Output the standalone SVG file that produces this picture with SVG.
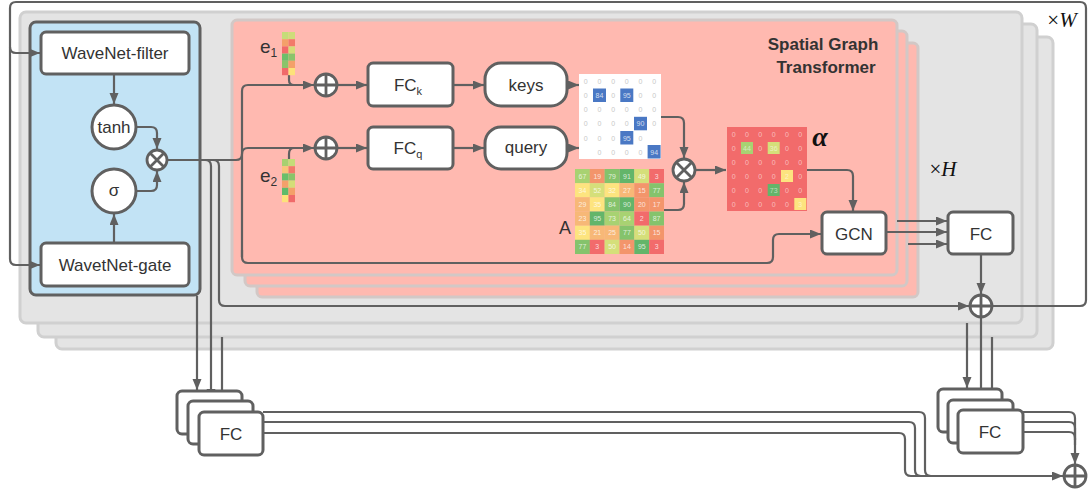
<svg xmlns="http://www.w3.org/2000/svg" width="1089" height="493" viewBox="0 0 1089 493">
<defs>
<marker id="ah" markerUnits="userSpaceOnUse" markerWidth="12" markerHeight="10" refX="11" refY="4.5" orient="auto"><path d="M0,0 L11,4.5 L0,9 z" fill="#606060"/></marker>
</defs>
<style>
.gray{fill:#e4e4e4;stroke:#d0d0d0;stroke-width:3}
.pink{fill:#ffb9b0;stroke:#d2c8c6;stroke-width:3}
.node{fill:#fff;stroke:#606060;stroke-width:3}
.ln{fill:none;stroke:#606060;stroke-width:2.2}
.arr{fill:none;stroke:#606060;stroke-width:2.2;marker-end:url(#ah)}
.op{fill:#fff;stroke:#606060;stroke-width:2.8}
.opl{stroke:#606060;stroke-width:2.8}
.t{font-family:"Liberation Sans",Arial,sans-serif;font-size:17px;fill:#333;text-anchor:middle}
.n0{font-family:"Liberation Sans",Arial,sans-serif;font-size:7px;fill:#c8c8c8;text-anchor:middle}
.nw{font-family:"Liberation Sans",Arial,sans-serif;font-size:7px;fill:#fff;fill-opacity:.75;text-anchor:middle}
.nr{font-family:"Liberation Sans",Arial,sans-serif;font-size:7px;fill:#fff;fill-opacity:.55;text-anchor:middle}
.R{fill:#f26b6b}.O{fill:#f3956b}.LO{fill:#f7b877}.Y{fill:#fde47f}.YG{fill:#d5df7a}.LG{fill:#a8d272}.G{fill:#85c36c}.DG{fill:#63b56a}.B{fill:#4a78c4}
</style>

<!-- background layers -->
<g id="layers">
<rect class="gray" x="56" y="37" width="997" height="312" rx="6"/>
<rect class="gray" x="38" y="24" width="999" height="313" rx="6"/>
<rect class="gray" x="20" y="12" width="1002" height="311" rx="6"/>
<rect class="pink" x="257" y="43" width="661" height="254" rx="5"/>
<rect class="pink" x="245" y="31" width="662" height="255" rx="5"/>
<rect class="pink" x="232" y="20" width="665" height="255" rx="5"/>
<rect x="30" y="22" width="170" height="273" rx="6" fill="#c2e3f5" stroke="#606060" stroke-width="3"/>
</g>

<g id="connectors">
<path class="ln" d="M992,306 H1080 Q1086,306 1086,300 V8 Q1086,2 1080,2 H16 Q10,2 10,8 V259 Q10,265 16,265 H40" marker-end="url(#ah)"/>
<path class="arr" d="M10,47 Q10,53 16,53 H40"/>
<path class="arr" d="M114,74 V104"/>
<path class="arr" d="M114,243 V214"/>
<path class="arr" d="M136,127 H151 Q157,127 157,133 V149"/>
<path class="arr" d="M136,191 H151 Q157,191 157,185 V171"/>
<path class="ln" d="M167,160 H236 Q242,160 242,154"/>
<path class="arr" d="M242,257 V91 Q242,85 248,85 H314"/>
<path class="arr" d="M242,154 Q242,148 248,148 H314"/>
<path class="arr" d="M242,250 V257 Q242,263 248,263 H767 Q773,263 773,257 V240 Q773,234 779,234 H821"/>
<path class="ln" d="M289,75 V80 Q289,85 294,85"/>
<path class="ln" d="M289,159 V154 Q289,148 294,148"/>
<path class="arr" d="M337,85 H367"/>
<path class="arr" d="M337,148 H367"/>
<path class="arr" d="M453,85 H484"/>
<path class="arr" d="M453,148 H484"/>
<path class="arr" d="M567,85 H579"/>
<path class="arr" d="M567,148 H579"/>
<path class="arr" d="M661,117 H678 Q684,117 684,123 V158"/>
<path class="arr" d="M664,210 H678 Q684,210 684,204 V182"/>
<path class="arr" d="M695,170 H726"/>
<path class="arr" d="M807,170 H847 Q853,170 853,176 V211"/>
<path class="arr" d="M897,221 H947"/>
<path class="arr" d="M886,232 H947"/>
<path class="arr" d="M908,244 H947"/>
<path class="arr" d="M981,254 V294"/>
<path class="ln" d="M205,160 Q211,160 211,166"/>
<path class="arr" d="M211,166 V400"/>
<path class="arr" d="M213,160 Q219,160 219,166 V300 Q219,306 225,306 H969"/>
<path class="arr" d="M197,296 V390"/>
<path class="arr" d="M222,337 V411"/>
<path class="arr" d="M967,323 V388"/>
<path class="arr" d="M981,317 V399"/>
<path class="arr" d="M992,337 V409"/>
<path class="arr" d="M263,412 H919 Q925,412 925,418 V470 Q925,476 931,476 H1063"/>
<path class="ln" d="M263,422 H909 Q915,422 915,428 V470 Q915,476 921,476 H931"/>
<path class="ln" d="M263,433 H899 Q905,433 905,439 V470 Q905,476 911,476 H921"/>
<path class="arr" d="M1023,412 H1069 Q1075,412 1075,418 V464"/>
<path class="ln" d="M1023,422 H1069 Q1075,422 1075,428 V440"/>
<path class="ln" d="M1023,432 H1069 Q1075,432 1075,438 V445"/>
</g>

<g id="wavenet-filter"><rect class="node" x="41" y="32" width="148" height="42" rx="5"/><text class="t" x="115" y="59">WaveNet-filter</text></g>
<g id="wavenet-gate"><rect class="node" x="41" y="243" width="148" height="43" rx="5"/><text class="t" x="115" y="271">WavetNet-gate</text></g>
<g id="tanh"><circle class="node" cx="114" cy="127" r="22"/><text class="t" x="114" y="133">tanh</text></g>
<g id="sigma"><circle class="node" cx="114" cy="191" r="22"/><text class="t" x="114" y="196">σ</text></g>
<g id="mul1"><circle class="op" cx="157" cy="160" r="10"/><path class="opl" d="M150,153 L164,167 M164,153 L150,167"/></g>

<g id="plus1"><circle class="op" cx="326" cy="85" r="11"/><path class="opl" d="M315,85 H337 M326,74 V96"/></g>
<g id="plus2"><circle class="op" cx="326" cy="148" r="11"/><path class="opl" d="M315,148 H337 M326,137 V159"/></g>

<g id="e1">
<rect x="282" y="32" width="6.5" height="7.2" fill="#c5dc78"/><rect x="288.5" y="32" width="6.5" height="7.2" fill="#cfdc7a"/>
<rect x="282" y="39.2" width="6.5" height="7.2" fill="#f4a06a"/><rect x="288.5" y="39.2" width="6.5" height="7.2" fill="#f27a6a"/>
<rect x="282" y="46.4" width="6.5" height="7.2" fill="#f06a6a"/><rect x="288.5" y="46.4" width="6.5" height="7.2" fill="#d4dd78"/>
<rect x="282" y="53.6" width="6.5" height="7.2" fill="#6bbf6a"/><rect x="288.5" y="53.6" width="6.5" height="7.2" fill="#8ac46a"/>
<rect x="282" y="60.8" width="6.5" height="7.2" fill="#8ac46a"/><rect x="288.5" y="60.8" width="6.5" height="7.2" fill="#f4a06a"/>
<rect x="282" y="68" width="6.5" height="7.2" fill="#f06a6a"/><rect x="288.5" y="68" width="6.5" height="7.2" fill="#fde27a"/>
<text x="260" y="53" font-family="Liberation Sans,Arial,sans-serif" font-size="19" fill="#333">e<tspan font-size="12" dy="4">1</tspan></text>
</g>
<g id="e2">
<rect x="282" y="159" width="6.5" height="7.2" fill="#a8d070"/><rect x="288.5" y="159" width="6.5" height="7.2" fill="#c5dc78"/>
<rect x="282" y="166.2" width="6.5" height="7.2" fill="#f9c47a"/><rect x="288.5" y="166.2" width="6.5" height="7.2" fill="#f27a6a"/>
<rect x="282" y="173.4" width="6.5" height="7.2" fill="#6bbf6a"/><rect x="288.5" y="173.4" width="6.5" height="7.2" fill="#8ac46a"/>
<rect x="282" y="180.6" width="6.5" height="7.2" fill="#f4a06a"/><rect x="288.5" y="180.6" width="6.5" height="7.2" fill="#d4dd78"/>
<rect x="282" y="187.8" width="6.5" height="7.2" fill="#5fbb6a"/><rect x="288.5" y="187.8" width="6.5" height="7.2" fill="#f4a06a"/>
<rect x="282" y="195" width="6.5" height="7.2" fill="#fde27a"/><rect x="288.5" y="195" width="6.5" height="7.2" fill="#f06a6a"/>
<text x="260" y="182" font-family="Liberation Sans,Arial,sans-serif" font-size="19" fill="#333">e<tspan font-size="12" dy="4">2</tspan></text>
</g>

<g id="fck"><rect class="node" x="368" y="63" width="85" height="43" rx="5"/><text class="t" x="408" y="91">FC<tspan font-size="11" dy="4">k</tspan></text></g>
<g id="fcq"><rect class="node" x="368" y="127" width="85" height="42" rx="5"/><text class="t" x="408" y="154">FC<tspan font-size="11" dy="4">q</tspan></text></g>
<g id="keys"><rect class="node" x="485" y="63" width="82" height="43" rx="16"/><text class="t" x="526" y="91">keys</text></g>
<g id="query"><rect class="node" x="485" y="127" width="82" height="42" rx="16"/><text class="t" x="526" y="153">query</text></g>

<g id="keys-matrix">
<rect x="579" y="74" width="82" height="85" fill="#fff"/>
<rect class="B" x="593" y="88.5" width="13" height="13.5"/><rect class="B" x="620.3" y="88.5" width="13" height="13.5"/>
<rect class="B" x="634" y="116.8" width="13" height="13.5"/><rect class="B" x="620.3" y="131" width="13" height="13.5"/>
<rect class="B" x="647.6" y="145" width="13" height="13.5"/>
<g class="n0">
<text x="585.8" y="83.8">0</text><text x="599.5" y="83.8">0</text><text x="613.2" y="83.8">0</text><text x="626.8" y="83.8">0</text><text x="640.5" y="83.8">0</text><text x="654.2" y="83.8">0</text>
<text x="585.8" y="98">0</text><text x="613.2" y="98">0</text><text x="640.5" y="98">0</text><text x="654.2" y="98">0</text>
<text x="585.8" y="112.1">0</text><text x="599.5" y="112.1">0</text><text x="613.2" y="112.1">0</text><text x="626.8" y="112.1">0</text><text x="640.5" y="112.1">0</text><text x="654.2" y="112.1">0</text>
<text x="585.8" y="126.3">0</text><text x="599.5" y="126.3">0</text><text x="613.2" y="126.3">0</text><text x="626.8" y="126.3">0</text><text x="654.2" y="126.3">0</text>
<text x="585.8" y="140.5">0</text><text x="599.5" y="140.5">0</text><text x="613.2" y="140.5">0</text><text x="640.5" y="140.5">0</text>
<text x="599.5" y="154.6">0</text><text x="613.2" y="154.6">0</text><text x="626.8" y="154.6">0</text><text x="640.5" y="154.6">0</text>
</g>
<g class="nw">
<text x="599.5" y="98">84</text><text x="626.8" y="98">95</text><text x="640.5" y="126.3">90</text><text x="626.8" y="140.5">95</text><text x="654.2" y="154.6">94</text>
</g>
</g>

<g id="mul2"><circle class="op" cx="684" cy="170" r="11"/><path class="opl" d="M676.2,162.2 L691.8,177.8 M691.8,162.2 L676.2,177.8"/></g>

<g id="A-matrix">
<rect class="LG" x="575" y="169" width="14.9" height="14.2"/><rect class="O" x="589.8" y="169" width="14.9" height="14.2"/><rect class="G" x="604.6" y="169" width="14.9" height="14.2"/><rect class="DG" x="619.5" y="169" width="14.9" height="14.2"/><rect class="YG" x="634.3" y="169" width="14.9" height="14.2"/><rect class="R" x="649.2" y="169" width="14.8" height="14.2"/>
<rect class="Y" x="575" y="183.2" width="14.9" height="14.2"/><rect class="YG" x="589.8" y="183.2" width="14.9" height="14.2"/><rect class="Y" x="604.6" y="183.2" width="14.9" height="14.2"/><rect class="LO" x="619.5" y="183.2" width="14.9" height="14.2"/><rect class="O" x="634.3" y="183.2" width="14.9" height="14.2"/><rect class="G" x="649.2" y="183.2" width="14.8" height="14.2"/>
<rect class="LO" x="575" y="197.3" width="14.9" height="14.2"/><rect class="Y" x="589.8" y="197.3" width="14.9" height="14.2"/><rect class="G" x="604.6" y="197.3" width="14.9" height="14.2"/><rect class="DG" x="619.5" y="197.3" width="14.9" height="14.2"/><rect class="O" x="634.3" y="197.3" width="14.9" height="14.2"/><rect class="O" x="649.2" y="197.3" width="14.8" height="14.2"/>
<rect class="LO" x="575" y="211.5" width="14.9" height="14.2"/><rect class="DG" x="589.8" y="211.5" width="14.9" height="14.2"/><rect class="LG" x="604.6" y="211.5" width="14.9" height="14.2"/><rect class="LG" x="619.5" y="211.5" width="14.9" height="14.2"/><rect class="R" x="634.3" y="211.5" width="14.9" height="14.2"/><rect class="G" x="649.2" y="211.5" width="14.8" height="14.2"/>
<rect class="Y" x="575" y="225.7" width="14.9" height="14.2"/><rect class="LO" x="589.8" y="225.7" width="14.9" height="14.2"/><rect class="LO" x="604.6" y="225.7" width="14.9" height="14.2"/><rect class="G" x="619.5" y="225.7" width="14.9" height="14.2"/><rect class="YG" x="634.3" y="225.7" width="14.9" height="14.2"/><rect class="O" x="649.2" y="225.7" width="14.8" height="14.2"/>
<rect class="G" x="575" y="239.8" width="14.9" height="14.2"/><rect class="R" x="589.8" y="239.8" width="14.9" height="14.2"/><rect class="YG" x="604.6" y="239.8" width="14.9" height="14.2"/><rect class="O" x="619.5" y="239.8" width="14.9" height="14.2"/><rect class="DG" x="634.3" y="239.8" width="14.9" height="14.2"/><rect class="R" x="649.2" y="239.8" width="14.8" height="14.2"/>
<g class="nw">
<text x="582.4" y="178.6">67</text><text x="597.3" y="178.6">19</text><text x="612.1" y="178.6">79</text><text x="627" y="178.6">91</text><text x="641.8" y="178.6">49</text><text x="656.6" y="178.6">3</text>
<text x="582.4" y="192.8">34</text><text x="597.3" y="192.8">52</text><text x="612.1" y="192.8">32</text><text x="627" y="192.8">27</text><text x="641.8" y="192.8">15</text><text x="656.6" y="192.8">77</text>
<text x="582.4" y="206.9">29</text><text x="597.3" y="206.9">35</text><text x="612.1" y="206.9">84</text><text x="627" y="206.9">90</text><text x="641.8" y="206.9">20</text><text x="656.6" y="206.9">17</text>
<text x="582.4" y="221.1">23</text><text x="597.3" y="221.1">95</text><text x="612.1" y="221.1">73</text><text x="627" y="221.1">64</text><text x="641.8" y="221.1">2</text><text x="656.6" y="221.1">87</text>
<text x="582.4" y="235.3">35</text><text x="597.3" y="235.3">21</text><text x="612.1" y="235.3">25</text><text x="627" y="235.3">77</text><text x="641.8" y="235.3">50</text><text x="656.6" y="235.3">15</text>
<text x="582.4" y="249.4">77</text><text x="597.3" y="249.4">3</text><text x="612.1" y="249.4">50</text><text x="627" y="249.4">14</text><text x="641.8" y="249.4">95</text><text x="656.6" y="249.4">3</text>
</g>
<text x="565" y="234" font-family="Liberation Sans,Arial,sans-serif" font-size="18" fill="#333" text-anchor="middle">A</text>
</g>

<g id="alpha-matrix">
<rect class="R" x="727" y="127" width="80" height="84"/>
<rect class="LG" x="741" y="142" width="12" height="12"/><rect class="YG" x="767.7" y="142" width="12" height="12"/>
<rect class="Y" x="781" y="170" width="12" height="12"/><rect class="DG" x="767.7" y="184" width="12" height="12"/>
<rect class="Y" x="794.3" y="198" width="12" height="12"/>
<g class="nr">
<text x="733.7" y="136.5">0</text><text x="747" y="136.5">0</text><text x="760.3" y="136.5">0</text><text x="773.7" y="136.5">0</text><text x="787" y="136.5">0</text><text x="800.3" y="136.5">0</text>
<text x="733.7" y="150.5">0</text><text x="747" y="150.5">44</text><text x="760.3" y="150.5">0</text><text x="773.7" y="150.5">36</text><text x="787" y="150.5">0</text><text x="800.3" y="150.5">0</text>
<text x="733.7" y="164.5">0</text><text x="747" y="164.5">0</text><text x="760.3" y="164.5">0</text><text x="773.7" y="164.5">0</text><text x="787" y="164.5">0</text><text x="800.3" y="164.5">0</text>
<text x="733.7" y="178.5">0</text><text x="747" y="178.5">0</text><text x="760.3" y="178.5">0</text><text x="773.7" y="178.5">0</text><text x="787" y="178.5">2</text><text x="800.3" y="178.5">0</text>
<text x="733.7" y="192.5">0</text><text x="747" y="192.5">0</text><text x="760.3" y="192.5">0</text><text x="773.7" y="192.5">73</text><text x="787" y="192.5">0</text><text x="800.3" y="192.5">0</text>
<text x="733.7" y="206.5">0</text><text x="747" y="206.5">0</text><text x="760.3" y="206.5">0</text><text x="773.7" y="206.5">0</text><text x="787" y="206.5">0</text><text x="800.3" y="206.5">3</text>
</g>
<text x="820" y="146" font-family="Liberation Serif,Times New Roman,serif" font-size="28" font-style="italic" font-weight="bold" fill="#111" text-anchor="middle">α</text>
</g>

<g id="title"><text x="823" y="50" font-family="Liberation Sans,Arial,sans-serif" font-size="17" font-weight="bold" fill="#333" text-anchor="middle">Spatial Graph</text><text x="826" y="73" font-family="Liberation Sans,Arial,sans-serif" font-size="17" font-weight="bold" fill="#333" text-anchor="middle">Transformer</text></g>

<g id="gcn"><rect class="node" x="822" y="212" width="64" height="42" rx="5"/><text x="854" y="240" class="t" font-size="18">GCN</text></g>
<g id="fc-main"><rect class="node" x="948" y="212" width="65" height="42" rx="5"/><text x="981" y="240" class="t" font-size="18">FC</text></g>
<g id="plus3"><circle class="op" cx="981" cy="306" r="11"/><path class="opl" d="M970,306 H992 M981,295 V317"/></g>

<g id="labels">
<text x="943" y="176" font-family="Liberation Serif,Times New Roman,serif" font-size="21" fill="#111" text-anchor="middle">×<tspan font-style="italic">H</tspan></text>
<text x="1062" y="27" font-family="Liberation Serif,Times New Roman,serif" font-size="21" fill="#111" text-anchor="middle">×<tspan font-style="italic">W</tspan></text>
</g>

<g id="fc-left-stack">
<rect class="node" x="177" y="391" width="65" height="43" rx="5"/>
<rect class="node" x="188" y="401" width="65" height="43" rx="5"/>
<rect class="node" x="199" y="412" width="64" height="43" rx="5"/>
<text class="t" x="231" y="440">FC</text>
</g>
<g id="fc-right-stack">
<rect class="node" x="938" y="389" width="64" height="43" rx="5"/>
<rect class="node" x="948" y="400" width="65" height="43" rx="5"/>
<rect class="node" x="958" y="410" width="65" height="43" rx="5"/>
<text class="t" x="990" y="438">FC</text>
</g>
<g id="plus4"><circle class="op" cx="1075" cy="476" r="11"/><path class="opl" d="M1064,476 H1086 M1075,465 V487"/></g>
</svg>
